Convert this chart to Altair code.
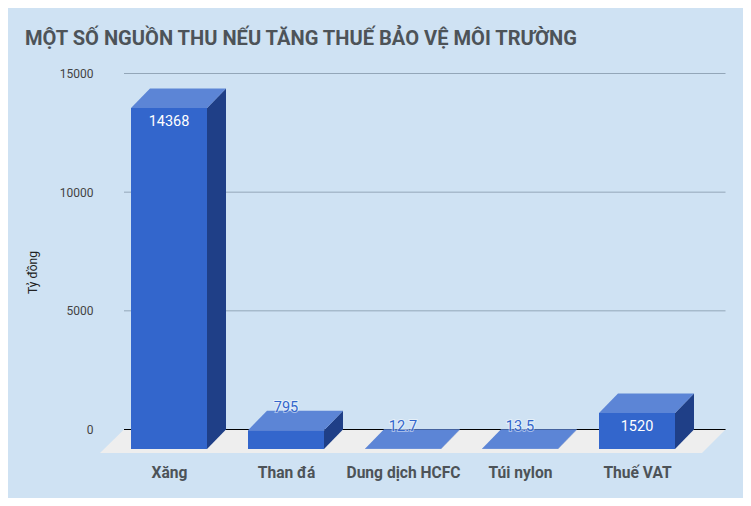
import json
import altair as alt
import pandas as pd

categories = ["Xăng", "Than đá", "Dung dịch HCFC", "Túi nylon", "Thuế VAT"]
values = [14368, 795, 12.7, 13.5, 1520]
value_labels = ["14368", "795", "12.7", "13.5", "1520"]
label_inside = [True, False, False, False, True]
tick_values = [0, 5000, 10000, 15000]
title_text = "MỘT SỐ NGUỒN THU NẾU TĂNG THUẾ BẢO VỆ MÔI TRƯỜNG"

# layout (pixels of the plot area and of the fake 3D depth)
PLOT_W, PLOT_H = 643, 394
STEP_PX = 117.0
FIRST_CENTER_PX = 69.0
ZERO_PX = 369.5
UNITS_PER_PX = 15000 / 356.0
BAR_W = 76 / STEP_PX
DEPTH_X = 19 / STEP_PX
DEPTH_Y = 19.5 * UNITS_PER_PX

x_dom = [-FIRST_CENTER_PX / STEP_PX, (PLOT_W - FIRST_CENTER_PX) / STEP_PX]
y_dom = [-(PLOT_H - ZERO_PX) * UNITS_PER_PX, ZERO_PX * UNITS_PER_PX]
x_scale = alt.Scale(domain=x_dom, nice=False, zero=False)
y_scale = alt.Scale(domain=y_dom, nice=False, zero=False)

FRONT, TOP, SIDE = "#3366cc", "#5c85d6", "#1f3f87"
INK = "#4d5358"
BG = "#cfe2f3"

front_rows, top_rows, side_rows = [], [], []
for i, v in enumerate(values):
    xl, xr = i - BAR_W / 2, i + BAR_W / 2
    front_rows.append(dict(x=xl, x2=xr, y=-DEPTH_Y, y2=v - DEPTH_Y))
    top_rows.append(dict(b=i, y=v - DEPTH_Y, x=xl, x2=xr))
    top_rows.append(dict(b=i, y=v, x=xl + DEPTH_X, x2=xr + DEPTH_X))
    side_rows.append(dict(b=i, x=xr, y=v - DEPTH_Y, y2=-DEPTH_Y))
    side_rows.append(dict(b=i, x=xr + DEPTH_X, y=v, y2=0))

grid_left = (24 - FIRST_CENTER_PX) / STEP_PX
grid_right = (625.5 - FIRST_CENTER_PX) / STEP_PX
floor_bottom = -23.5 * UNITS_PER_PX
floor_rows = [
    dict(y=floor_bottom, x=-FIRST_CENTER_PX / STEP_PX, x2=(602 - FIRST_CENTER_PX) / STEP_PX),
    dict(y=0, x=grid_left, x2=grid_right),
]
grid_rows = [dict(y=t, x=grid_left, x2=grid_right) for t in tick_values]

inside_rows = [dict(x=i, y=v - DEPTH_Y, t=l) for i, (v, l, s) in enumerate(zip(values, value_labels, label_inside)) if s]
outside_rows = [dict(x=i, y=v - DEPTH_Y, t=l) for i, (v, l, s) in enumerate(zip(values, value_labels, label_inside)) if not s]


def X(**kw):
    return alt.X("x:Q", scale=x_scale, **kw)


def Y(**kw):
    return alt.Y("y:Q", scale=y_scale, **kw)


label_expr = json.dumps(categories, ensure_ascii=False) + "[datum.value]"

grid = alt.Chart(pd.DataFrame(grid_rows)).mark_rule(color="#93a6b8", strokeWidth=1).encode(
    x=X(axis=alt.Axis(
        values=list(range(len(categories))), labelExpr=label_expr, title=None, grid=False,
        domain=False, ticks=False, labelFont="Roboto", labelFontWeight="bold", labelFontSize=15.6,
        labelColor=INK, labelPadding=11, labelFlush=False, labelOverlap=False, labelBound=False,
    )),
    x2="x2:Q",
    y=Y(axis=alt.Axis(
        values=tick_values, title="Tỷ đồng", grid=False, domain=False, ticks=False,
        labelFont="Roboto", labelFontSize=12, labelColor="#444444", labelPadding=7,
        format="d", titleFont="Roboto", titleFontSize=12, titleFontWeight="normal", titleColor="#222222",
        titleX=-61, titleY=212, titleAngle=270, labelBound=False, labelFlush=False,
    )),
)

floor = alt.Chart(pd.DataFrame(floor_rows)).mark_area(orient="horizontal", color="#eeeeee").encode(
    y=Y(), x=X(), x2="x2:Q"
)
zero_line = alt.Chart(pd.DataFrame(grid_rows[:1])).mark_rule(color="#000000", strokeWidth=1).encode(
    x=X(), x2="x2:Q", y=Y()
)
side = alt.Chart(pd.DataFrame(side_rows)).mark_area(color=SIDE).encode(
    x=X(), y=Y(), y2="y2:Q", detail="b:N"
)
top = alt.Chart(pd.DataFrame(top_rows)).mark_area(orient="horizontal", color=TOP).encode(
    y=Y(), x=X(), x2="x2:Q", detail="b:N"
)
front = alt.Chart(pd.DataFrame(front_rows)).mark_rect(color=FRONT).encode(
    x=X(), x2="x2:Q", y=Y(), y2="y2:Q"
)
text_base = dict(font="Roboto", fontSize=14.5, align="center", baseline="middle")
inside_text = alt.Chart(pd.DataFrame(inside_rows)).mark_text(color="#ffffff", dy=14, **text_base).encode(
    x=X(), y=Y(), text="t:N"
)
outside_halo = alt.Chart(pd.DataFrame(outside_rows)).mark_text(
    color="#ffffff", stroke="#ffffff", strokeWidth=2, opacity=0.45, dy=-22, **text_base
).encode(x=X(), y=Y(), text="t:N")
outside_text = alt.Chart(pd.DataFrame(outside_rows)).mark_text(color=FRONT, dy=-22, **text_base).encode(
    x=X(), y=Y(), text="t:N"
)

chart = alt.layer(
    grid, floor, zero_line, side, top, front, inside_text, outside_halo, outside_text
).properties(
    width=PLOT_W,
    height=PLOT_H,
    background=BG,
    padding={"left": 92, "top": 52, "right": 0, "bottom": 44},
    autosize=alt.AutoSizeParams(type="none"),
    title=alt.TitleParams(
        title_text, anchor="start", frame="group", dx=-75, offset=11, font="Roboto", fontSize=20.1,
        fontWeight="bold", color=INK,
    ),
).configure_view(stroke=None)

chart.save("out.html", embed_options={"renderer": "svg", "actions": False})
